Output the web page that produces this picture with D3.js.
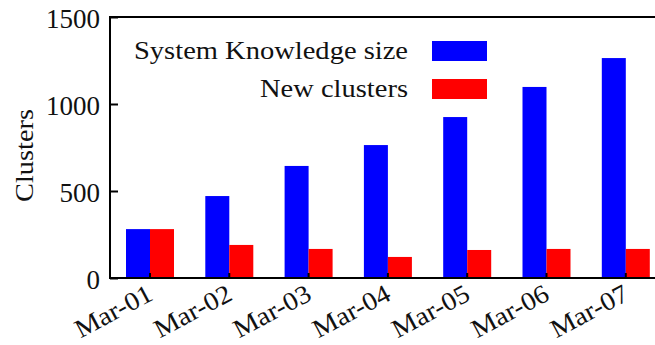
<!DOCTYPE html>
<html>
<head>
<meta charset="utf-8">
<script src="https://cdn.jsdelivr.net/npm/d3@7"></script>
<style>
  html, body { margin: 0; padding: 0; background: #fff; }
  svg { display: block; }
  text { font-family: "Liberation Serif", "Times New Roman", serif; fill: #111; }
</style>
</head>
<body>
<svg id="chart" width="655" height="345"></svg>
<script>
// Daily cluster counts
const categories = ["Mar-01", "Mar-02", "Mar-03", "Mar-04", "Mar-05", "Mar-06", "Mar-07"];
const systemKnowledgeSize = [281, 471, 644, 764, 925, 1098, 1264];
const newClusters = [281, 190, 167, 121, 161, 167, 167];
const seriesNames = ["System Knowledge size", "New clusters"];
const seriesColors = ["#0000ff", "#ff0000"];
const yTicks = [0, 500, 1000, 1500];

(function () {
  const W = 655;
  const plotLeft = 110, plotTop = 17, plotBottom = 278;
  const step = 79.3;

  const svg = d3.select("#chart");

  const x = d3.scaleBand()
    .domain(categories)
    .range([150 - step / 2, 150 - step / 2 + step * categories.length])
    .padding(0);

  const sub = d3.scaleBand()
    .domain(seriesNames)
    .range([-24, 24])
    .padding(0);

  const y = d3.scaleLinear().domain([0, 1500]).range([plotBottom, plotTop]);

  const rows = categories.map((c, i) => ({
    cat: c,
    values: [systemKnowledgeSize[i], newClusters[i]]
  }));

  // Bars
  const groups = svg.append("g").selectAll("g")
    .data(rows).join("g")
    .attr("transform", d => `translate(${x(d.cat) + x.bandwidth() / 2},0)`);

  groups.selectAll("rect")
    .data(d => d.values.map((v, k) => ({ name: seriesNames[k], v, k })))
    .join("rect")
    .attr("x", d => sub(d.name))
    .attr("width", sub.bandwidth())
    .attr("y", d => y(d.v))
    .attr("height", d => y(0) - y(d.v))
    .attr("fill", d => seriesColors[d.k]);

  // Y axis
  const yAxis = svg.append("g")
    .attr("transform", `translate(${plotLeft},0)`)
    .call(d3.axisLeft(y).tickValues(yTicks).tickFormat(d3.format("d"))
      .tickSizeInner(-8).tickSizeOuter(0).tickPadding(10));
  yAxis.select(".domain").remove();
  yAxis.selectAll(".tick line").attr("stroke", "#000").attr("stroke-width", 2);
  yAxis.selectAll(".tick text")
    .attr("font-size", 27)
    .attr("font-family", "Liberation Serif, serif")
    .attr("fill", "#111")
    .attr("dy", "0.4em");

  // X axis
  const xAxis = svg.append("g")
    .attr("transform", `translate(0,${plotBottom})`)
    .call(d3.axisBottom(x).tickSizeInner(-5).tickSizeOuter(0).tickFormat(""));
  xAxis.select(".domain").remove();
  xAxis.selectAll(".tick line").attr("stroke", "#000").attr("stroke-width", 2);

  svg.append("g").selectAll("text")
    .data(categories).join("text")
    .attr("transform", d => `translate(${x(d) + x.bandwidth() / 2 - 4},${plotBottom + 5}) rotate(-28)`)
    .attr("text-anchor", "end")
    .attr("dy", "0.7em")
    .attr("font-size", 26)
    .attr("textLength", 84)
    .attr("lengthAdjust", "spacingAndGlyphs")
    .text(d => d);

  // Frame lines: left, top, bottom
  const frame = svg.append("g").attr("stroke", "#000").attr("stroke-width", 2).attr("fill", "none");
  frame.append("line").attr("x1", plotLeft).attr("x2", plotLeft).attr("y1", plotTop - 1).attr("y2", plotBottom + 1);
  frame.append("line").attr("x1", plotLeft - 1).attr("x2", W).attr("y1", plotTop).attr("y2", plotTop);
  frame.append("line").attr("x1", plotLeft - 1).attr("x2", W).attr("y1", plotBottom).attr("y2", plotBottom);

  // Y axis title
  svg.append("text")
    .attr("transform", `translate(33,${(plotTop + plotBottom) / 2 + 8}) rotate(-90)`)
    .attr("text-anchor", "middle")
    .attr("font-size", 26)
    .attr("textLength", 93)
    .attr("lengthAdjust", "spacingAndGlyphs")
    .text("Clusters");

  // Legend
  const legend = svg.append("g").selectAll("g")
    .data(seriesNames).join("g")
    .attr("transform", (d, i) => `translate(0,${41 + i * 38})`);
  legend.append("rect")
    .attr("x", 432).attr("y", 0).attr("width", 55).attr("height", 20)
    .attr("fill", (d, i) => seriesColors[i]);
  legend.append("text")
    .attr("x", 408).attr("y", 18)
    .attr("text-anchor", "end")
    .attr("font-size", 26)
    .attr("textLength", (d, i) => i === 0 ? 274 : 148)
    .attr("lengthAdjust", "spacingAndGlyphs")
    .text(d => d);
})();
</script>
</body>
</html>
